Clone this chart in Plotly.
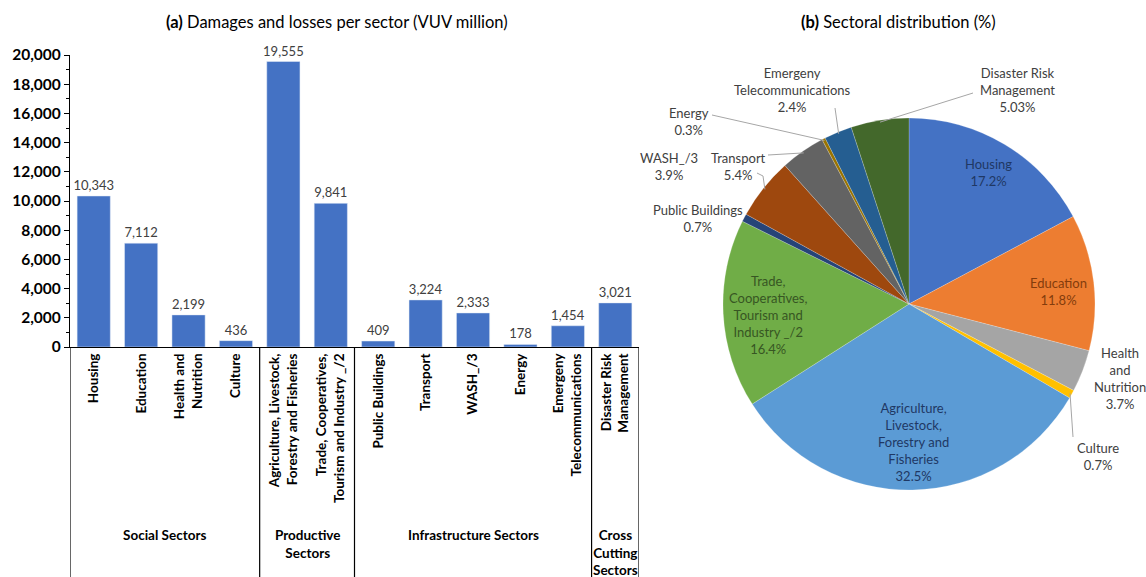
import math
import plotly.graph_objects as go

W, H = 1146, 577

# ---------------- data ----------------
sectors = ["Housing", "Education", "Health and Nutrition", "Culture",
           "Agriculture, Livestock, Forestry and Fisheries",
           "Trade, Cooperatives, Tourism and Industry _/2",
           "Public Buildings", "Transport", "WASH_/3", "Energy",
           "Emergeny Telecommunications", "Disaster Risk Management"]
values = [10343, 7112, 2199, 436, 19555, 9841, 409, 3224, 2333, 178, 1454, 3021]
tick_labels = ["Housing", "Education", "Health and<br>Nutrition", "Culture",
               "Agriculture, Livestock,<br>Forestry and Fisheries",
               "Trade, Cooperatives,<br>Tourism and Industry _/2",
               "Public Buildings", "Transport", "WASH_/3", "Energy",
               "Emergeny<br>Telecommunications", "Disaster Risk<br>Management"]
groups = ["Social Sectors", "Productive<br>Sectors", "Infrastructure Sectors",
          "Cross<br>Cutting<br>Sectors"]
group_sizes = [4, 2, 5, 1]
y_ticks = [0, 2000, 4000, 6000, 8000, 10000, 12000, 14000, 16000, 18000, 20000]

pie_names = ["Housing", "Education", "Health<br>and<br>Nutrition", "Culture",
             "Agriculture,<br>Livestock,<br>Forestry and<br>Fisheries",
             "Trade,<br>Cooperatives,<br>Tourism and<br>Industry _/2",
             "Public Buildings", "Transport", "WASH_/3", "Energy",
             "Emergeny<br>Telecommunications", "Disaster Risk<br>Management"]
pct_decimals = [1, 1, 1, 1, 1, 1, 1, 1, 1, 1, 1, 2]
pie_colors = ["#4472C4", "#ED7D31", "#A5A5A5", "#FFC000", "#5B9BD5", "#70AD47",
              "#264478", "#9E480E", "#636363", "#997300", "#255E91", "#43682B"]

FONT = "Lato"
BAR_COLOR = "#4472C4"


def P(x, y):
    """pixel -> paper coordinates (margins are zero)."""
    return x / W, 1 - y / H


fig = go.Figure()

# ---------------- bar chart ----------------
bar_x0, bar_x1 = 70, 639
bar_ytop, bar_ybot = 55, 347
fig.add_trace(go.Bar(
    x=sectors, y=values, marker_color=BAR_COLOR,
    texttemplate="%{y:,}", textposition="outside", constraintext="none",
    textfont=dict(family=FONT, size=13, color="#404040"),
    cliponaxis=False, showlegend=False, xaxis="x", yaxis="y"))

# ---------------- pie chart ----------------
pcx, pcy, pr = 909, 304, 186
fig.add_trace(go.Pie(
    labels=sectors, values=values, sort=False, direction="clockwise",
    rotation=0, textinfo="none", hoverinfo="label+percent",
    marker=dict(colors=pie_colors, line=dict(color="rgba(255,255,255,0.4)", width=0.5)),
    domain=dict(x=[(pcx - pr) / W, (pcx + pr) / W],
                y=[1 - (pcy + pr) / H, 1 - (pcy - pr) / H]),
    showlegend=False))

total = sum(values)
cum = []
acc = 0
for v in values:
    cum.append((acc + v / 2) / total)
    acc += v


def edge(i, f=1.0):
    th = 2 * math.pi * cum[i]
    return pcx + pr * f * math.sin(th), pcy - pr * f * math.cos(th)


pct_text = [f"{100 * v / total:.{d}f}%" for v, d in zip(values, pct_decimals)]

# label placements (pixel centre of first line) and text colours
label_pos = {
    0: (988, 163, "#1F3864"),
    1: (1058, 282, "#843C0C"),
    2: (1120, 352, "#404040"),
    3: (1098, 447, "#404040"),
    4: (913, 408, "#1F3864"),
    5: (768, 280, "#375623"),
    6: (698, 210, "#404040"),
    7: (739, 157, "#404040"),
    8: (669, 157, "#404040"),
    9: (689, 112, "#404040"),
    10: (792, 73, "#404040"),
    11: (1017, 73, "#404040"),
}
LH = 17
annotations = []
for i, (x, y, c) in label_pos.items():
    ax, ay = P(x, y - LH / 2 - 1)
    annotations.append(dict(
        x=ax, y=ay, xref="paper", yref="paper", xanchor="center", yanchor="top",
        text=pie_names[i] + "<br>" + pct_text[i], showarrow=False,
        font=dict(family=FONT, size=13, color=c), align="center"))

# leader lines: from label side to slice edge (edge computed from data)
leader_start = {3: [(1073, 437)], 7: [(757, 173), (763, 176)], 8: [(768, 155)],
                9: [(712, 115)], 10: [(835, 108)], 11: [(973, 93)]}
shapes = []
for i, pts in leader_start.items():
    ex, ey = edge(i, 0.99)
    path_pts = pts + [(ex, ey)]
    d = ""
    for k, (px, py) in enumerate(path_pts):
        qx, qy = P(px, py)
        d += ("M" if k == 0 else "L") + f"{qx},{qy} "
    shapes.append(dict(type="path", path=d, xref="paper", yref="paper",
                       line=dict(color="#A6A6A6", width=1)))

# group separator lines below bar chart
n = len(sectors)
bounds = [-0.5]
for s in group_sizes:
    bounds.append(bounds[-1] + s)
for b in bounds:
    shapes.append(dict(type="line", xref="x", yref="paper", x0=b, x1=b,
                       y0=0, y1=1 - bar_ybot / H, line=dict(color="#000000", width=1.2)))

# group labels
for g, b0, b1 in zip(groups, bounds[:-1], bounds[1:]):
    annotations.append(dict(
        x=(b0 + b1) / 2, y=1 - 525 / H, xref="x", yref="paper",
        xanchor="center", yanchor="top", text=g, showarrow=False,
        font=dict(family=FONT, size=13.5, color="#000000", weight="bold"),
        align="center"))

# titles
tx, ty = P(337, 22)
annotations.append(dict(x=tx, y=ty, xref="paper", yref="paper", xanchor="center",
                        yanchor="middle", showarrow=False,
                        text="<b>(a)</b> Damages and losses per sector (VUV million)",
                        font=dict(family=FONT, size=16.5, color="#000000")))
tx, ty = P(898, 22)
annotations.append(dict(x=tx, y=ty, xref="paper", yref="paper", xanchor="center",
                        yanchor="middle", showarrow=False,
                        text="<b>(b)</b> Sectoral distribution (%)",
                        font=dict(family=FONT, size=16.5, color="#000000")))

fig.update_layout(
    width=W, height=H, margin=dict(l=0, r=0, t=0, b=0),
    paper_bgcolor="white", plot_bgcolor="white",
    bargap=0.3,
    xaxis=dict(domain=[bar_x0 / W, bar_x1 / W], type="category",
               tickvals=sectors, ticktext=tick_labels, tickangle=-90,
               showline=True, linecolor="#000000", linewidth=1.2,
               ticks="", showgrid=False, automargin=False,
               tickfont=dict(family=FONT, size=13.5, color="#000000", weight="bold"),
               range=[-0.5, n - 0.5], fixedrange=True),
    yaxis=dict(domain=[1 - bar_ybot / H, 1 - bar_ytop / H], range=[0, 20000],
               tickvals=y_ticks, tickformat=",", showline=True,
               linecolor="#000000", linewidth=1.2, ticks="outside", ticklen=5,
               tickcolor="#000000",
               minor=dict(ticks="outside", ticklen=3, dtick=1000, tickcolor="#000000"),
               showgrid=False, zeroline=False, automargin=False,
               tickfont=dict(family=FONT, size=15.5, color="#000000", weight="bold"),
               fixedrange=True),
    shapes=shapes, annotations=annotations,
)

fig.write_html("out.html", config={"displayModeBar": False},
               post_script="document.body.style.margin='0';document.body.style.overflow='hidden';")
